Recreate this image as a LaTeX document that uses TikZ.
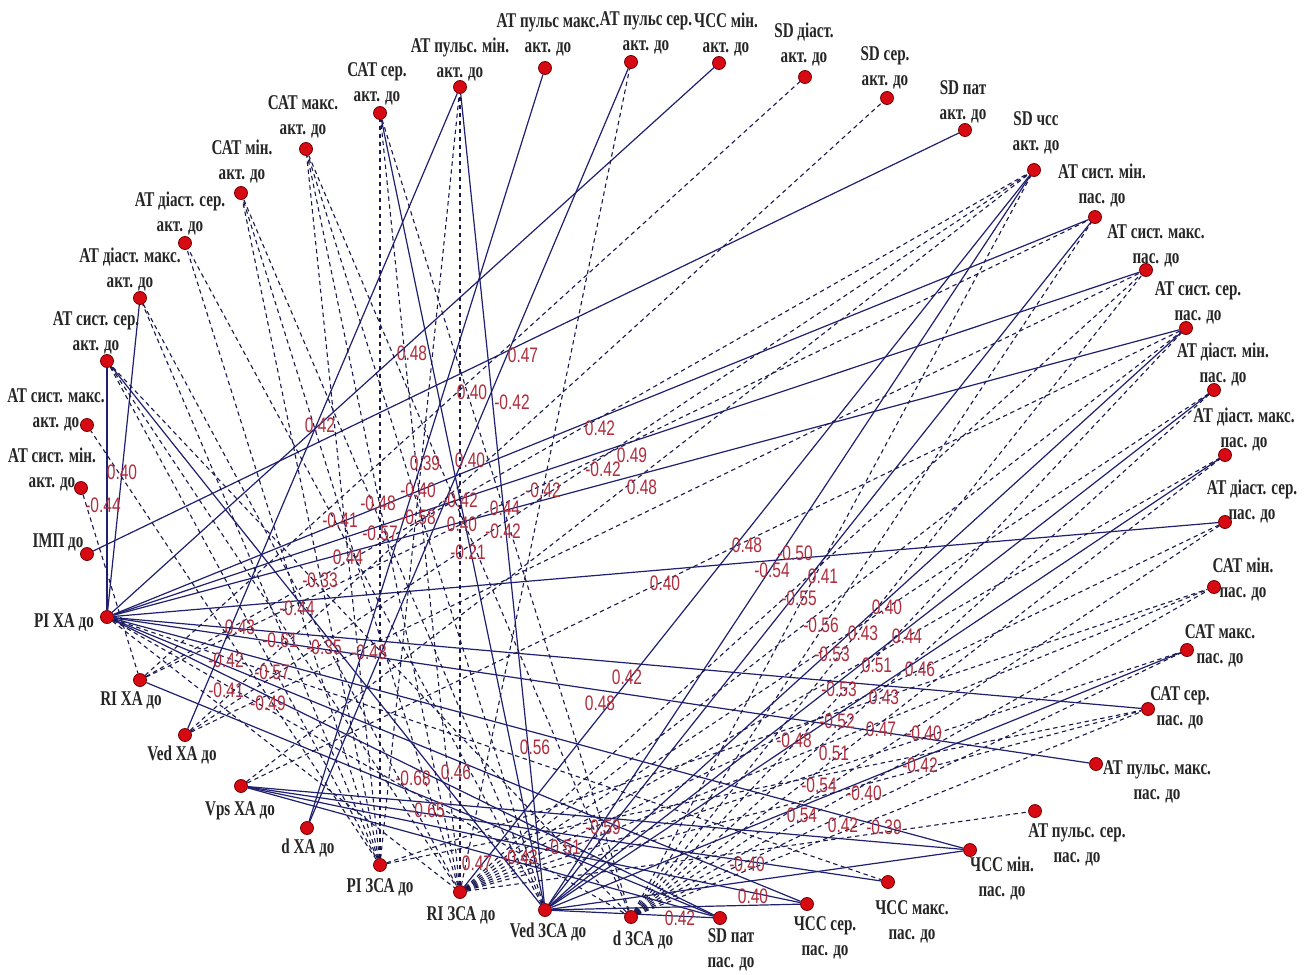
\documentclass[tikz,border=0pt]{standalone}
\usepackage{fontspec}
\setmainfont{Liberation Serif}
\newfontfamily\labfont[FakeStretch=0.72]{Liberation Serif}
\newfontfamily\numfont[FakeStretch=0.74]{Liberation Sans}
\usetikzlibrary{backgrounds}
\definecolor{edgeblue}{RGB}{32,32,112}
\definecolor{edgedark}{RGB}{25,25,80}
\definecolor{numred}{RGB}{175,45,60}
\definecolor{dotred}{RGB}{215,10,20}
\tikzset{
  dot/.style={circle,fill=dotred,draw=red!45!black,line width=0.4pt,inner sep=0pt,minimum size=6.5pt},
  lab/.style={font=\labfont\bfseries\fontsize{10.5}{12.5}\selectfont,align=center,text=black!85,inner sep=0pt},
  num/.style={font=\numfont\fontsize{10.5}{11}\selectfont,text=numred,inner sep=0pt},
  poscor/.style={draw=edgeblue,line width=0.6pt},
  negcor/.style={draw=edgedark,line width=0.55pt,dash pattern=on 2.2pt off 1.8pt},
}
\begin{document}
\begin{tikzpicture}[x=0.5pt,y=-0.5pt]
\useasboundingbox (0,0) rectangle (1309,974);
% dots
\foreach \n/\x/\y in {apmin/460/87, apmax/545/68, apser/631/62, ahrmin/719/63, asdd/805/77,
  asds/887/98, asdp/965/130, asdh/1034/170, psmin/1095/217, psmax/1146/270, psser/1186/328,
  pdmin/1214/390, pdmax/1225/455, pdser/1225/522, pcamin/1214/587, pcamax/1187/650,
  pcaser/1148/709, ppmax/1096/764, ppser/1035/811, phrmin/970/850, phrmax/888/882,
  phrser/807/904, psdp/720/918, dzsa/631/917, vedzsa/545/910, rizsa/460/892, pizsa/380/865,
  dxa/307/828, vpsxa/241/786, vedxa/185/735, rixa/140/680, pixa/107/617, imp/87/554,
  asmin/81/488, asmax/87/425, asser/107/361, admax/140/298, adser/185/243, acamin/241/193,
  acamax/306/149, acaser/380/113}
  {\node[dot] (\n) at (\x,\y) {};}
% texts of the dots
\node[lab] (tapmin) at (460,60) {АТ пульс. мін.\\акт. до};
\node[lab] (tapmax) at (548,35) {АТ пульс макс.\\акт. до};
\node[lab] (tapser) at (646,33) {АТ пульс сер.\\акт. до};
\node[lab] (tahrmin) at (726,35) {ЧСС мін.\\акт. до};
\node[lab] (tasdd) at (804,45) {SD діаст.\\акт. до};
\node[lab] (tasds) at (885,68) {SD сер.\\акт. до};
\node[lab] (tasdp) at (963,102) {SD пат\\акт. до};
\node[lab] (tasdh) at (1036,133) {SD чсс\\акт. до};
\node[lab] (tpsmin) at (1102,186) {АТ сист. мін.\\пас. до};
\node[lab] (tpsmax) at (1156,246) {АТ сист. макс.\\пас. до};
\node[lab] (tpsser) at (1198,303) {АТ сист. сер.\\пас. до};
\node[lab] (tpdmin) at (1223,365) {АТ діаст. мін.\\пас. до};
\node[lab] (tpdmax) at (1244,430) {АТ діаст. макс.\\пас. до};
\node[lab] (tpdser) at (1252,502) {АТ діаст. сер.\\пас. до};
\node[lab] (tpcamin) at (1243,580) {САТ мін.\\пас. до};
\node[lab] (tpcamax) at (1220,646) {САТ макс.\\пас. до};
\node[lab] (tpcaser) at (1180,708) {САТ сер.\\пас. до};
\node[lab] (tppmax) at (1157,782) {АТ пульс. макс.\\пас. до};
\node[lab] (tppser) at (1077,845) {АТ пульс. сер.\\пас. до};
\node[lab] (tphrmin) at (1002,879) {ЧСС мін.\\пас. до};
\node[lab] (tphrmax) at (912,922) {ЧСС макс.\\пас. до};
\node[lab] (tphrser) at (825,938) {ЧСС сер.\\пас. до};
\node[lab] (tpsdp) at (731,950) {SD пат\\пас. до};
\node[lab] (tdzsa) at (643,940) {d ЗСА до};
\node[lab] (tvedzsa) at (548,932) {Ved ЗСА до};
\node[lab] (trizsa) at (461,915) {RI ЗСА до};
\node[lab] (tpizsa) at (380,887) {PI ЗСА до};
\node[lab] (tdxa) at (308,848) {d ХА до};
\node[lab] (tvpsxa) at (240,811) {Vps ХА до};
\node[lab] (tvedxa) at (182,755) {Ved ХА до};
\node[lab] (trixa) at (131,700) {RI ХА до};
\node[lab] (tpixa) at (64,622) {PI ХА до};
\node[lab] (timp) at (58,542) {ІМП до};
\node[lab] (tasmin) at (52,470) {АТ сист. мін.\\акт. до};
\node[lab] (tasmax) at (56,410) {АТ сист. макс.\\акт. до};
\node[lab] (tasser) at (96,333) {АТ сист. сер.\\акт. до};
\node[lab] (tadmax) at (130,270) {АТ діаст. макс.\\акт. до};
\node[lab] (tadser) at (180,214) {АТ діаст. сер.\\акт. до};
\node[lab] (tacamin) at (242,162) {САТ мін.\\акт. до};
\node[lab] (tacamax) at (303,117) {САТ макс.\\акт. до};
\node[lab] (tacaser) at (377,84) {САТ сер.\\акт. до};
% connectors
\begin{scope}[on background layer]
\fill[white] (0,0) rectangle (1309,974);
\foreach \a/\b in {pixa/asser, pixa/admax, pixa/ahrmin, imp/asdp, pixa/psmin, pixa/psmax,
  pixa/psser, pixa/pdser, pixa/pcaser, pixa/ppmax, pixa/phrmin, pixa/phrser, pixa/psdp,
  vedxa/apmin, vedzsa/apmin, vedzsa/acaser, dxa/apmax, dxa/apser, vedzsa/asdh, rizsa/asdh,
  vedzsa/psmin, vedzsa/psser, vedzsa/pdmin, vedzsa/pdmax, vedzsa/pcamax, vedzsa/phrmin,
  vedzsa/phrser, vedzsa/psdp, vpsxa/phrmin, vpsxa/phrmax, vpsxa/phrser, vpsxa/psdp,
  rixa/psdp, asser/vedzsa}
  {\draw[poscor] (\a) -- (\b);}
\foreach \a/\b in {rizsa/psmax, rizsa/psser, rizsa/pdmin, rizsa/pdmax, rizsa/pdser,
  rizsa/pcamin, rizsa/pcamax, rizsa/pcaser, rizsa/ppser, rizsa/apmin, rizsa/acaser,
  rizsa/apser, rizsa/acamax, rizsa/acamin,
  dzsa/psmin, dzsa/psmax, dzsa/psser, dzsa/pdmin, dzsa/pdmax, dzsa/pdser, dzsa/pcamin,
  dzsa/pcamax, dzsa/pcaser, dzsa/acaser, dzsa/acamax, dzsa/asser, dzsa/asdh,
  pizsa/acaser, pizsa/apmin, pizsa/acamax, pizsa/admax, pizsa/adser, pizsa/asmax,
  pizsa/acamin, pizsa/pcaser, pizsa/pcamin,
  vedzsa/acamax, vedzsa/acamin, vedzsa/adser,
  asser/rizsa, asser/pizsa, admax/rizsa,
  pixa/dzsa, pixa/rizsa, pixa/phrmax,
  rixa/asdd, rixa/asdh, rixa/psmin, vedxa/asds, vedxa/asdh, vedxa/psmax,
  vpsxa/asdh, vpsxa/psser, asmin/rixa}
  {\draw[negcor] (\a) -- (\b);}
\end{scope}
% correlation values
\foreach \t/\x/\y [count=\i] in {0.48/412/353, 0.47/523/355, 0.42/320/425, 0.40/472/392,
  -0.42/512/402, 0.42/600/428, 0.49/632/455, -0.42/603/469, -0.42/543/490, 0.48/642/487,
  0.39/425/463, 0.40/470/460, -0.40/418/490, -0.48/378/503, -0.42/460/500, 0.44/505/508,
  -0.58/418/517, -0.41/340/520, -0.57/380/533, 0.40/462/524, -0.42/503/531, -0.21/468/552,
  0.44/348/557, -0.33/320/580, -0.44/297/608, 0.40/665/583, 0.40/122/472, -0.44/103/505,
  0.43/240/627, -0.61/280/640, -0.35/324/647, -0.48/369/652, -0.42/226/660, -0.57/272/672,
  -0.41/226/690, -0.49/268/703, 0.42/627/677, 0.48/600/703, 0.56/535/747, -0.68/413/778,
  0.46/456/772, -0.65/427/810, -0.59/603/827, 0.47/477/863, -0.43/520/857, -0.51/563/847,
  -0.40/747/864, 0.40/753/896, 0.42/680/918, 0.48/747/545, -0.50/795/553, -0.54/772/570,
  0.41/823/576, -0.55/799/598, -0.56/821/625, 0.40/887/607, 0.43/863/633, 0.44/907/636,
  -0.53/832/654, 0.51/877/665, 0.46/920/669, -0.53/839/689, 0.43/884/697, -0.52/837/721,
  0.47/881/729, -0.40/924/733, -0.48/794/740, 0.51/834/753, -0.42/920/765, -0.54/819/785,
  -0.40/864/793, 0.54/802/815, 0.42/843/825, -0.39/884/827}
  {\node[num] (v\i) at (\x,\y) {\t};}
\end{tikzpicture}
\end{document}
